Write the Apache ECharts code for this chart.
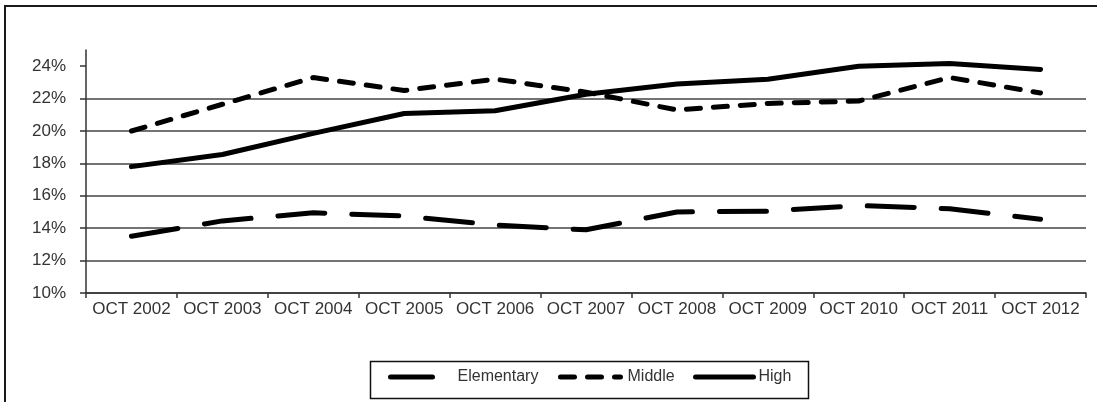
<!DOCTYPE html>
<html><head><meta charset="utf-8">
<script src="https://cdn.jsdelivr.net/npm/echarts@6/dist/echarts.min.js"></script>
<style>
html,body{margin:0;padding:0;background:#fff}
#c{position:absolute;left:0;top:0;width:1097px;height:402px}
#frame{position:absolute;left:4px;top:5px;width:1100px;height:400px;border-left:2px solid #1a1a1a;border-top:2px solid #1a1a1a;pointer-events:none}
</style></head><body>
<div id="c"></div><div id="frame"></div>
<script>
const categories = ['OCT 2002','OCT 2003','OCT 2004','OCT 2005','OCT 2006','OCT 2007','OCT 2008','OCT 2009','OCT 2010','OCT 2011','OCT 2012'];
const elementary = [13.5, 14.45, 14.95, 14.75, 14.2, 13.9, 15.0, 15.05, 15.4, 15.2, 14.55];
const middle = [20.0, 21.65, 23.3, 22.5, 23.2, 22.4, 21.3, 21.7, 21.85, 23.3, 22.35];
const high = [17.8, 18.55, 19.85, 21.08, 21.25, 22.27, 22.9, 23.2, 24.0, 24.17, 23.8];
const yTicks = [10, 12, 14, 16, 18, 20, 22, 24];
const seriesNames = ['Elementary', 'Middle', 'High'];

const FONT = 'Liberation Sans';
const chart = echarts.init(document.getElementById('c'), null, {renderer: 'canvas'});
const lineBase = {width: 5, color: '#000', cap: 'round', join: 'round'};
const legendText = {fontFamily: FONT, fontSize: 16, color: '#333'};
const legendCommon = {top: 369, padding: 0, itemHeight: 12,
  itemStyle: {opacity: 0, borderWidth: 0},
  lineStyle: {width: 5, type: 'inherit', cap: 'round', color: '#000', opacity: 1}};
chart.setOption({
  animation: false,
  backgroundColor: '#fff',
  grid: {left: 86, right: 11, top: 50, bottom: 109, containLabel: false},
  xAxis: {
    type: 'category', data: categories, boundaryGap: true,
    axisLine: {lineStyle: {color: '#333', width: 1.5}},
    axisTick: {show: true, length: 5, lineStyle: {color: '#333', width: 1.5}},
    axisLabel: {interval: 0, margin: 8, fontFamily: FONT, fontSize: 17, color: '#333'},
    splitLine: {show: false}
  },
  yAxis: {
    type: 'value', min: 10, max: 25, interval: 2,
    axisLine: {show: true, lineStyle: {color: '#333', width: 1.5}},
    axisTick: {show: true, length: 6, customValues: yTicks, lineStyle: {color: '#333', width: 1.5}},
    axisLabel: {customValues: yTicks, margin: 20, fontFamily: FONT, fontSize: 17, color: '#333',
      formatter: v => (v > 24.5 ? '' : v + '%')},
    splitLine: {show: true, showMaxLine: false, lineStyle: {color: '#444', width: 1.5}}
  },
  legend: [
    Object.assign({data: [seriesNames[0]], left: 388, itemWidth: 42,
     textStyle: Object.assign({padding: [0, 0, 0, 20]}, legendText)}, legendCommon),
    Object.assign({data: [seriesNames[1]], left: 558, itemWidth: 60,
     textStyle: Object.assign({padding: [0, 0, 0, 2]}, legendText)}, legendCommon),
    Object.assign({data: [seriesNames[2]], left: 693, itemWidth: 58,
     textStyle: Object.assign({padding: [0, 0, 0, 0]}, legendText)}, legendCommon)
  ],
  graphic: [{
    type: 'rect', left: 368, top: 359, silent: true,
    shape: {width: 438, height: 37},
    style: {fill: 'none', stroke: '#111', lineWidth: 1.5}
  }],
  series: [
    {name: seriesNames[0], type: 'line', data: elementary, symbol: 'none', smooth: false,
     lineStyle: Object.assign({type: [47, 27]}, lineBase)},
    {name: seriesNames[1], type: 'line', data: middle, symbol: 'none', smooth: false,
     lineStyle: Object.assign({type: [14, 13]}, lineBase)},
    {name: seriesNames[2], type: 'line', data: high, symbol: 'none', smooth: false,
     lineStyle: Object.assign({type: 'solid'}, lineBase)}
  ]
});
</script>
</body></html>
